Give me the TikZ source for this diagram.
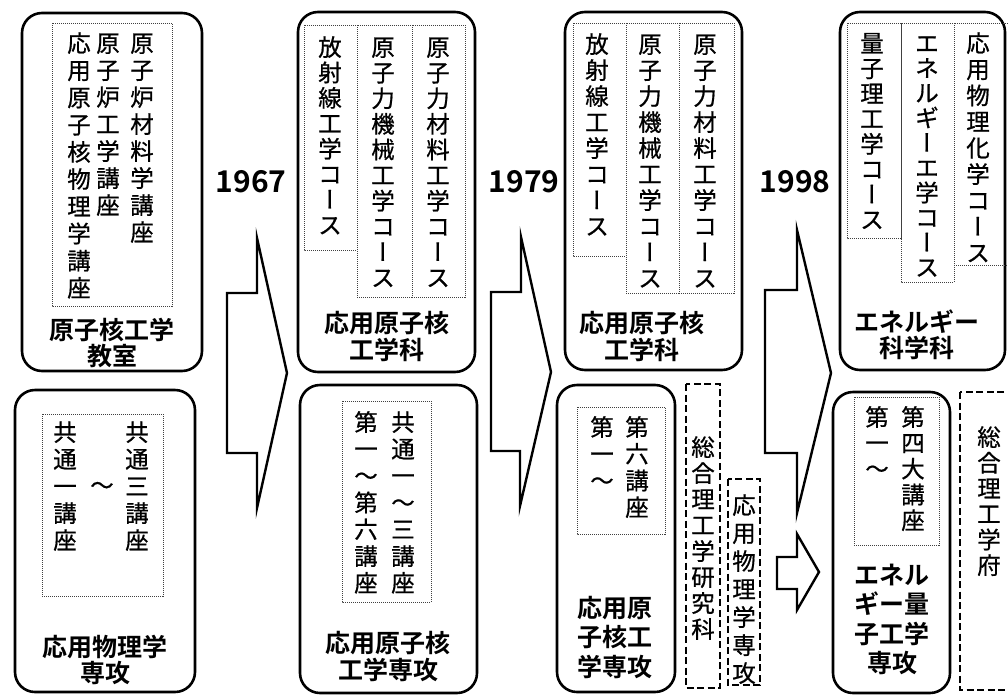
\documentclass[tikz,border=0pt]{standalone}
\usepackage{fontspec}
\setmainfont{Noto Sans CJK JP}[BoldFont={Noto Sans CJK JP Bold}]
\newfontfamily\vfont{Noto Sans CJK JP}[FakeBold=0.7]
\newfontfamily\vertfont{Noto Sans CJK JP}[RawFeature=+vert,FakeBold=0.7]
\newcommand\vb{{\vertfont ー}}
\newcommand\vcol[5]{\foreach \cc [count=\ii] in {#5} {\node[vch] (#1-\ii) at (#2,{#3+(\ii-1)*#4+9}) {\cc};}}
\tikzset{
 vch/.style={anchor=base, inner sep=0pt, font=\vfont\fontsize{23.5}{23.5}\selectfont},
 rbox/.style={draw, line width=2.6pt, rounded corners=20pt},
 dbox/.style={draw=black!75, line width=0.7pt, dash pattern=on 1pt off 1pt},
 dashbox/.style={draw, line width=2.4pt, dash pattern=on 7pt off 3.5pt},
 ttl/.style={align=center, inner sep=0pt, font=\bfseries\fontsize{25}{26.5}\selectfont},
 yr/.style={font=\bfseries\fontsize{30}{30}\selectfont, inner sep=0pt},
 barrow/.style={draw, line width=2.4pt, fill=white, line join=miter},
}
\begin{document}
\begin{tikzpicture}[x=1pt,y=-1pt]
\useasboundingbox (0,0) rectangle (1008,696);
% rounded boxes
\draw[rbox] (22,13) rectangle (202,371);
\draw[rbox] (15,390) rectangle (195,692);
\draw[rbox] (298,12) rectangle (475,372);
\draw[rbox] (300,385) rectangle (477,693);
\draw[rbox] (565,12) rectangle (742,370);
\draw[rbox] (557,385) rectangle (675,692);
\draw[rbox] (840,12) rectangle (1005,370);
\draw[rbox] (833,392) rectangle (950,693);
% dotted inner boxes
\draw[dbox] (52,23) rectangle (172,306);
\draw[dbox] (42,414) rectangle (163,596);
\draw[dbox] (304,25) rectangle (357,250);
\draw[dbox] (357,25) rectangle (412,297);
\draw[dbox] (412,25) rectangle (465,297);
\draw[dbox] (342,401) rectangle (431,602);
\draw[dbox] (573,23) rectangle (626,256);
\draw[dbox] (626,23) rectangle (679,293);
\draw[dbox] (679,23) rectangle (734,293);
\draw[dbox] (577,407) rectangle (665,534);
\draw[dbox] (847,23) rectangle (901,238);
\draw[dbox] (901,23) rectangle (954,282);
\draw[dbox] (954,23) rectangle (1015,265);
\draw[dbox] (854,397) rectangle (939,545);
% dashed boxes
\draw[dashbox] (686,384) rectangle (720,688);
\draw[dashbox] (728,479) rectangle (760,685);
\draw[dashbox] (960,392) rectangle (1020,690);
% block arrows
\draw[barrow] (227,293) -- (257,293) -- (257,238) -- (287,373) -- (257,508) -- (257,453) -- (227,453) -- cycle;
\draw[barrow] (491,292) -- (521,292) -- (521,237) -- (551,372) -- (520,506) -- (520,451) -- (491,451) -- cycle;
\draw[barrow] (765,290) -- (797,290) -- (797,230) -- (831,373) -- (797,513) -- (797,453) -- (765,453) -- cycle;
\draw[barrow] (777,557) -- (797,557) -- (797,534) -- (819,572) -- (797,610) -- (797,589) -- (777,589) -- cycle;
% years
\node[yr] (y1967) at (251,182) {1967};
\node[yr] (y1979) at (524,182) {1979};
\node[yr] (y1998) at (795,182) {1998};
% box 1
\vcol{b1a}{142}{43}{27}{原,子,炉,材,料,学,講,座}
\vcol{b1b}{108}{43}{27}{原,子,炉,工,学,講,座}
\vcol{b1c}{79}{43}{27.2}{応,用,原,子,核,物,理,学,講,座}
\node[ttl] (t1) at (112,343) {原子核工学\\教室};
% box 2
\vcol{b2a}{137}{432}{27}{共,通,三,講,座}
\vcol{b2b}{65}{432}{27}{共,通,一,講,座}
\node[vch, anchor=center] (b2t) at (102,488) {〜};
\node[ttl] (t2) at (105,660) {応用物理学\\専攻};
% box 3
\vcol{b3a}{330}{47}{25.4}{放,射,線,工,学,コ,\vb,ス}
\vcol{b3b}{383}{47}{25.6}{原,子,力,機,械,工,学,コ,\vb,ス}
\vcol{b3c}{438}{47}{25.6}{原,子,力,材,料,工,学,コ,\vb,ス}
\node[ttl] (t3) at (387,336.5) {応用原子核\\工学科};
% box 4
\vcol{b4a}{403}{422}{26.8}{共,通,一,〜,三,講,座}
\vcol{b4b}{366}{422}{26.8}{第,一,〜,第,六,講,座}
\node[ttl] (t4) at (388,656.5) {応用原子核\\工学専攻};
% box 5
\vcol{b5a}{597}{44}{26}{放,射,線,工,学,コ,\vb,ス}
\vcol{b5b}{650}{44}{26}{原,子,力,機,械,工,学,コ,\vb,ス}
\vcol{b5c}{705}{44}{26}{原,子,力,材,料,工,学,コ,\vb,ス}
\node[ttl] (t5) at (642,336.5) {応用原子核\\工学科};
% box 6
\vcol{b6a}{637}{427}{26.7}{第,六,講,座}
\vcol{b6b}{602}{427}{26.7}{第,一,〜}
\node[ttl, font=\bfseries\fontsize{25}{29.5}\selectfont] (t6) at (615,637.5) {応用原\\子核工\\学専攻};
% dashed texts
\vcol{s1}{703}{447}{26}{総,合,理,工,学,研,究,科}
\vcol{s2}{744}{505}{28}{応,用,物,理,学,専,攻}
% box 7
\vcol{b7a}{872}{43}{25.2}{量,子,理,工,学,コ,\vb,ス}
\vcol{b7b}{927}{43}{24.9}{エ,ネ,ル,ギ,\vb,エ,学,コ,\vb,ス}
\vcol{b7c}{978}{43}{26.2}{応,用,物,理,化,学,コ,\vb,ス}
\node[ttl] (t7) at (917,335) {エネルギー\\科学科};
% box 8
\vcol{b8a}{913}{417}{25.8}{第,四,大,講,座}
\vcol{b8b}{877}{417}{25.8}{第,一,〜}
\node[ttl, font=\bfseries\fontsize{25}{29.3}\selectfont] (t8) at (892,619.5) {エネル\\ギー量\\子工学\\専攻};
\vcol{s3}{989}{437}{25.6}{総,合,理,工,学,府}
\end{tikzpicture}
\end{document}
